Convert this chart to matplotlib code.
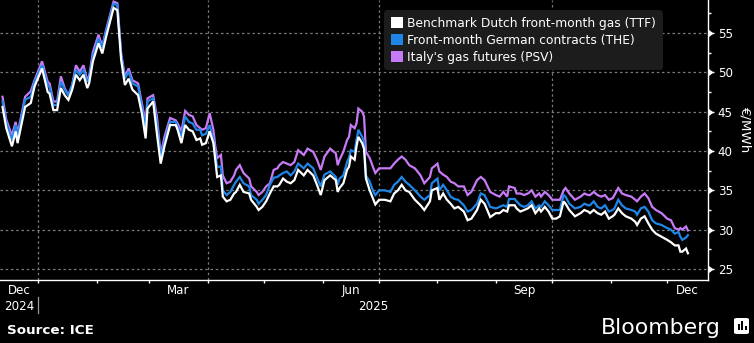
import matplotlib
matplotlib.use("Agg")
import matplotlib.pyplot as plt
import matplotlib.dates as mdates
import matplotlib.transforms as mtransforms
from matplotlib.patches import Patch, FancyBboxPatch, Rectangle
from matplotlib.lines import Line2D
import pandas as pd

# ---------------- data ----------------
dates = [
    "2024-12-13", "2024-12-15", "2024-12-18", "2024-12-20", "2024-12-21", "2024-12-25", "2024-12-28", "2024-12-30",
    "2025-01-03", "2025-01-06", "2025-01-07", "2025-01-09", "2025-01-11", "2025-01-13", "2025-01-15", "2025-01-17",
    "2025-01-19", "2025-01-21", "2025-01-23", "2025-01-25", "2025-01-27", "2025-01-28", "2025-01-30", "2025-02-02",
    "2025-02-04", "2025-02-06", "2025-02-10", "2025-02-12", "2025-02-14", "2025-02-16", "2025-02-18", "2025-02-20",
    "2025-02-23", "2025-02-25", "2025-02-27", "2025-02-28", "2025-03-03", "2025-03-05", "2025-03-07", "2025-03-09",
    "2025-03-12", "2025-03-15", "2025-03-16", "2025-03-18", "2025-03-20", "2025-03-22", "2025-03-24", "2025-03-26",
    "2025-03-28", "2025-03-29", "2025-03-31", "2025-04-02", "2025-04-04", "2025-04-05", "2025-04-06", "2025-04-08",
    "2025-04-09", "2025-04-11", "2025-04-13", "2025-04-15", "2025-04-16", "2025-04-18", "2025-04-20", "2025-04-23",
    "2025-04-24", "2025-04-27", "2025-04-28", "2025-04-30", "2025-05-02", "2025-05-04", "2025-05-06", "2025-05-08",
    "2025-05-09", "2025-05-11", "2025-05-13", "2025-05-15", "2025-05-17", "2025-05-19", "2025-05-22", "2025-05-24",
    "2025-05-27", "2025-05-29", "2025-05-31", "2025-06-02", "2025-06-05", "2025-06-08", "2025-06-09", "2025-06-10",
    "2025-06-12", "2025-06-14", "2025-06-15", "2025-06-16", "2025-06-18", "2025-06-19", "2025-06-20", "2025-06-22",
    "2025-06-23", "2025-06-24", "2025-06-26", "2025-06-28", "2025-06-29", "2025-07-01", "2025-07-04", "2025-07-07",
    "2025-07-09", "2025-07-11", "2025-07-13", "2025-07-15", "2025-07-17", "2025-07-20", "2025-07-23", "2025-07-25",
    "2025-07-28", "2025-07-29", "2025-08-01", "2025-08-02", "2025-08-04", "2025-08-06", "2025-08-08", "2025-08-10",
    "2025-08-12", "2025-08-15", "2025-08-17", "2025-08-19", "2025-08-22", "2025-08-24", "2025-08-26", "2025-08-29",
    "2025-09-01", "2025-09-03", "2025-09-05", "2025-09-07", "2025-09-08", "2025-09-11", "2025-09-12", "2025-09-14",
    "2025-09-16", "2025-09-18", "2025-09-20", "2025-09-22", "2025-09-24", "2025-09-25", "2025-09-27", "2025-09-29",
    "2025-10-01", "2025-10-03", "2025-10-05", "2025-10-07", "2025-10-08", "2025-10-10", "2025-10-13", "2025-10-16",
    "2025-10-18", "2025-10-20", "2025-10-21", "2025-10-23", "2025-10-25", "2025-10-27", "2025-10-29", "2025-10-31",
    "2025-11-02", "2025-11-03", "2025-11-05", "2025-11-07", "2025-11-09", "2025-11-12", "2025-11-14", "2025-11-15",
    "2025-11-17", "2025-11-19", "2025-11-21", "2025-11-23", "2025-11-25", "2025-11-28", "2025-12-01", "2025-12-03",
    "2025-12-05", "2025-12-07", "2025-12-08", "2025-12-09", "2025-12-11", "2025-12-12",
]

ttf = [
    45.6, 42.9, 40.6, 42.5, 41.0, 45.6, 46.1, 48.2,
    50.5, 47.5, 47.3, 45.2, 45.2, 48.0, 47.1, 46.5,
    47.8, 49.7, 49.0, 49.7, 48.0, 48.6, 51.4, 53.7,
    52.4, 54.5, 58.2, 57.9, 51.6, 48.4, 49.2, 47.8,
    47.1, 44.8, 41.6, 45.4, 46.3, 42.2, 38.4, 40.6,
    43.3, 43.3, 42.7, 41.0, 43.3, 42.7, 42.5, 41.4,
    41.6, 40.8, 41.0, 42.5, 41.0, 38.9, 36.7, 36.9,
    34.2, 33.6, 33.8, 34.6, 34.8, 35.7, 34.8, 34.6,
    33.8, 32.9, 32.5, 32.9, 33.6, 34.6, 35.5, 35.5,
    35.7, 36.5, 36.1, 35.9, 36.3, 37.6, 36.9, 37.6,
    36.9, 35.7, 34.4, 36.3, 36.9, 36.3, 34.8, 35.3,
    35.9, 37.6, 38.0, 39.3, 38.9, 40.6, 41.8, 41.0,
    40.3, 36.5, 35.0, 33.8, 33.2, 33.8, 33.8, 33.6,
    34.6, 35.0, 35.7, 35.0, 34.8, 33.8, 33.1, 32.5,
    33.6, 35.0, 35.3, 33.8, 34.6, 33.8, 33.3, 32.7,
    32.9, 32.3, 31.2, 31.4, 32.5, 33.8, 33.3, 31.6,
    32.1, 32.1, 32.5, 32.3, 33.1, 33.1, 32.7, 32.3,
    32.5, 32.7, 33.1, 32.1, 32.7, 32.3, 32.9, 32.3,
    31.4, 31.4, 31.7, 33.6, 33.3, 32.5, 31.7, 32.1,
    32.5, 32.3, 32.1, 32.5, 32.1, 31.9, 32.3, 31.4,
    31.7, 31.9, 32.7, 32.1, 31.7, 31.4, 31.0, 30.6,
    31.4, 31.7, 30.8, 30.0, 29.5, 29.1, 28.7, 28.4,
    28.0, 28.0, 27.2, 27.2, 27.6, 27.0,
]

the = [
    46.3, 43.6, 41.4, 43.3, 41.8, 46.5, 46.9, 48.8,
    50.9, 48.4, 48.1, 45.8, 45.9, 48.8, 47.8, 47.1,
    48.4, 50.3, 49.7, 50.3, 48.8, 49.2, 52.0, 54.3,
    53.1, 55.2, 58.7, 58.6, 52.2, 49.2, 50.1, 48.6,
    48.2, 45.6, 42.9, 46.3, 46.7, 43.5, 39.1, 41.2,
    43.7, 43.7, 43.1, 41.8, 44.4, 43.7, 43.5, 42.7,
    42.7, 42.0, 42.2, 43.3, 41.4, 39.7, 38.0, 38.0,
    35.0, 34.4, 34.8, 35.7, 36.1, 36.7, 35.9, 35.5,
    34.4, 33.8, 33.3, 33.8, 34.4, 35.7, 36.6, 36.7,
    36.9, 37.2, 37.4, 36.9, 37.4, 38.4, 37.8, 38.4,
    37.8, 36.6, 35.5, 37.0, 37.4, 36.7, 35.7, 36.5,
    36.9, 38.6, 39.1, 40.1, 39.9, 41.4, 42.7, 41.8,
    41.2, 36.9, 36.1, 34.8, 34.4, 35.0, 35.0, 34.8,
    35.7, 36.1, 36.7, 36.1, 35.7, 35.0, 34.2, 33.8,
    34.4, 35.9, 36.5, 35.0, 35.7, 35.0, 34.2, 33.9,
    33.8, 33.1, 32.3, 32.5, 33.3, 34.6, 34.4, 32.9,
    32.7, 32.9, 33.1, 32.9, 33.9, 33.9, 33.6, 33.1,
    32.9, 33.1, 33.6, 32.7, 33.1, 32.9, 33.6, 33.1,
    32.5, 32.5, 32.5, 34.4, 34.2, 33.3, 32.7, 32.9,
    33.3, 33.1, 33.1, 33.6, 32.9, 32.7, 33.1, 32.3,
    32.5, 32.7, 33.8, 33.1, 32.7, 32.5, 32.3, 31.9,
    32.7, 32.9, 32.3, 31.2, 30.8, 30.6, 30.2, 30.0,
    29.5, 29.7, 29.1, 28.7, 29.0, 29.3,
]

psv = [
    46.9, 44.0, 42.0, 43.7, 42.2, 46.9, 47.6, 49.0,
    51.4, 48.8, 48.6, 46.3, 46.3, 49.5, 48.0, 47.1,
    48.4, 50.9, 50.1, 50.9, 49.0, 49.5, 52.6, 54.8,
    53.3, 55.4, 59.0, 58.8, 52.4, 49.5, 50.5, 49.0,
    48.6, 46.1, 43.5, 46.7, 47.1, 44.4, 39.5, 41.8,
    44.2, 43.9, 43.5, 42.5, 45.1, 44.6, 44.4, 43.3,
    42.9, 42.7, 42.9, 44.8, 42.7, 40.6, 39.1, 39.5,
    36.9, 35.9, 36.1, 36.9, 37.6, 38.2, 37.2, 36.5,
    35.5, 34.8, 34.4, 34.8, 35.5, 35.9, 37.6, 37.8,
    38.2, 38.6, 38.4, 38.2, 38.6, 40.1, 39.5, 40.3,
    39.9, 38.9, 37.6, 39.3, 40.3, 39.7, 38.2, 38.9,
    39.9, 41.4, 41.8, 43.3, 42.9, 43.5, 45.4, 45.0,
    44.4, 39.9, 39.1, 37.8, 37.2, 37.8, 37.8, 37.8,
    38.4, 38.9, 39.3, 38.9, 38.2, 37.8, 36.9, 35.9,
    36.7, 37.8, 38.4, 37.4, 37.0, 36.7, 36.1, 35.9,
    35.5, 35.5, 34.4, 34.8, 36.3, 36.7, 36.3, 34.8,
    34.4, 34.2, 34.8, 34.2, 35.5, 35.3, 34.6, 34.6,
    34.4, 34.6, 35.0, 34.2, 34.6, 34.2, 34.8, 34.4,
    33.8, 33.8, 33.8, 35.0, 35.3, 34.6, 33.8, 34.2,
    34.6, 34.4, 34.4, 34.8, 34.4, 34.2, 34.4, 33.8,
    34.0, 34.4, 35.3, 34.6, 34.4, 34.2, 33.8, 33.6,
    34.2, 34.6, 34.0, 32.9, 32.5, 32.1, 31.4, 31.2,
    30.2, 30.0, 30.2, 30.0, 30.4, 29.9,
]

series_labels = [
    "Benchmark Dutch front-month gas (TTF)",
    "Front-month German contracts (THE)",
    "Italy's gas futures (PSV)",
]
month_label_text = ["Dec", "Mar", "Jun", "Sep", "Dec"]
month_label_starts = ["2024-12-01", "2025-03-01", "2025-06-01", "2025-09-01", "2025-12-01"]
year_label_text = ["2024", "2025"]
year_starts = ["2024-01-01", "2025-01-01"]
y_ticks = [25, 30, 35, 40, 45, 50, 55]
y_minor_ticks = [27.5, 32.5, 37.5, 42.5, 47.5, 52.5, 57.5]
x_view = ["2024-12-11 16:00", "2025-12-22 16:00"]
y_view = [23.6, 59.2]
unit_label = "€/MWh"
source_text = "Source: ICE"

# ---------------- styling ----------------
W, H = 754, 343
BG = "black"
C_TTF = "#ffffff"
C_THE = "#1f86e8"
C_PSV = "#c77af5"
GRID = "#7a7a7a"
FONT = "DejaVu Sans"
plt.rcParams["font.family"] = [FONT]


def fx(px):
    return px / W


def fy(py):
    return 1 - py / H


fig = plt.figure(figsize=(W / 100, H / 100), dpi=100, facecolor=BG)
ax = fig.add_axes([0, fy(280), fx(708), 280 / H])
ax.set_facecolor(BG)

d = pd.to_datetime(dates)
ax.plot(d, psv, color=C_PSV, lw=1.6, zorder=3, solid_joinstyle="miter")
ax.plot(d, the, color=C_THE, lw=1.6, zorder=4, solid_joinstyle="miter")
ax.plot(d, ttf, color=C_TTF, lw=1.6, zorder=5, solid_joinstyle="miter")

x0, x1 = pd.to_datetime(x_view)
ax.set_xlim(x0, x1)
ax.set_ylim(*y_view)

# spines
for s in ["left", "top"]:
    ax.spines[s].set_visible(False)
for s in ["bottom", "right"]:
    ax.spines[s].set_color("white")
    ax.spines[s].set_linewidth(1.0)

# y axis on right
ax.yaxis.tick_right()
ax.set_yticks(y_ticks)
ax.set_yticks(y_minor_ticks, minor=True)
ax.tick_params(axis="y", which="major", length=4.5, width=1, color="white",
               labelcolor="white", labelsize=8.6, pad=2.5)
ax.tick_params(axis="y", which="minor", length=2.5, width=1, color="white")
ax.plot([1.0] * len(y_ticks), y_ticks, linestyle="none", marker=9, ms=4.2,
        color="white", clip_on=False, transform=ax.get_yaxis_transform(), zorder=6)

# x axis: month ticks, custom labels
months = pd.date_range("2024-12-01", x1, freq="MS")
months = [m for m in months if m >= x0]
ax.set_xticks(months, minor=True)
ax.set_xticks([])
ax.tick_params(axis="x", which="minor", length=2.5, width=1, color="white")

# grid
for yv in y_ticks:
    ax.axhline(yv, color=GRID, lw=0.9, ls=(0, (2, 2.2)), zorder=1)
for q in pd.date_range("2025-01-01", x1, freq="QS"):
    ax.axvline(q, color=GRID, lw=0.9, ls=(0, (2, 2.2)), zorder=1)

# month labels centred on the visible part of each month
bt = mtransforms.blended_transform_factory(ax.transData, fig.transFigure)
xn0, xn1 = mdates.date2num(x0), mdates.date2num(x1)
for txt, ms_ in zip(month_label_text, month_label_starts):
    a = pd.Timestamp(ms_)
    b = a + pd.offsets.MonthBegin(1)
    lo = max(mdates.date2num(a), xn0)
    hi = min(mdates.date2num(b), xn1)
    fig.text((lo + hi) / 2, fy(290.5), txt, transform=bt, ha="center", va="center",
             color="white", fontsize=8.6)
for txt, ys in zip(year_label_text, year_starts):
    a = pd.Timestamp(ys)
    b = a + pd.offsets.YearBegin(1)
    lo = max(mdates.date2num(a), xn0)
    hi = min(mdates.date2num(b), xn1)
    fig.text((lo + hi) / 2, fy(306), txt, transform=bt, ha="center", va="center",
             color="white", fontsize=8.6)
# year separator
sep = mdates.date2num(pd.Timestamp(year_starts[1]))
fig.add_artist(Line2D([sep, sep], [fy(297), fy(313)], transform=bt, color="#9a9a9a", lw=0.9))

# unit label
fig.text(fx(745), fy(129), unit_label, rotation=270, ha="center", va="center",
         color="white", fontsize=9.6)

# legend
handles = [Patch(facecolor=c, edgecolor="none") for c in (C_TTF, C_THE, C_PSV)]
leg = fig.legend(handles, series_labels, loc="upper left",
                 bbox_to_anchor=(fx(384), fy(10)), bbox_transform=fig.transFigure,
                 frameon=True, fancybox=True, facecolor="#1c1c1c", edgecolor="none",
                 framealpha=1.0, fontsize=8.8, labelcolor="white",
                 handlelength=1.0, handleheight=1.0, handletextpad=0.35,
                 labelspacing=0.32, borderpad=0.55, borderaxespad=0)
leg.get_frame().set_boxstyle("round,pad=0,rounding_size=0.3")

# footer
fig.text(fx(7), fy(334), source_text, ha="left", va="baseline", color="white",
         fontsize=9.7, fontweight="bold")
fig.text(fx(601), fy(333.5), "Bloomberg", ha="left", va="baseline", color="white",
         fontsize=15.8)

# small Bloomberg chart icon
icon = FancyBboxPatch((fx(734), fy(334)), fx(15), 16 / H,
                      boxstyle="round,pad=0,rounding_size=0.004",
                      transform=fig.transFigure, facecolor="white", edgecolor="none")
fig.add_artist(icon)
for bx, bh in ((737.5, 6), (741, 9), (744.5, 4)):
    fig.add_artist(Rectangle((fx(bx), fy(330)), fx(2), bh / H, transform=fig.transFigure,
                             facecolor="black", edgecolor="none"))

fig.savefig("out.png", dpi=100, facecolor=BG)
